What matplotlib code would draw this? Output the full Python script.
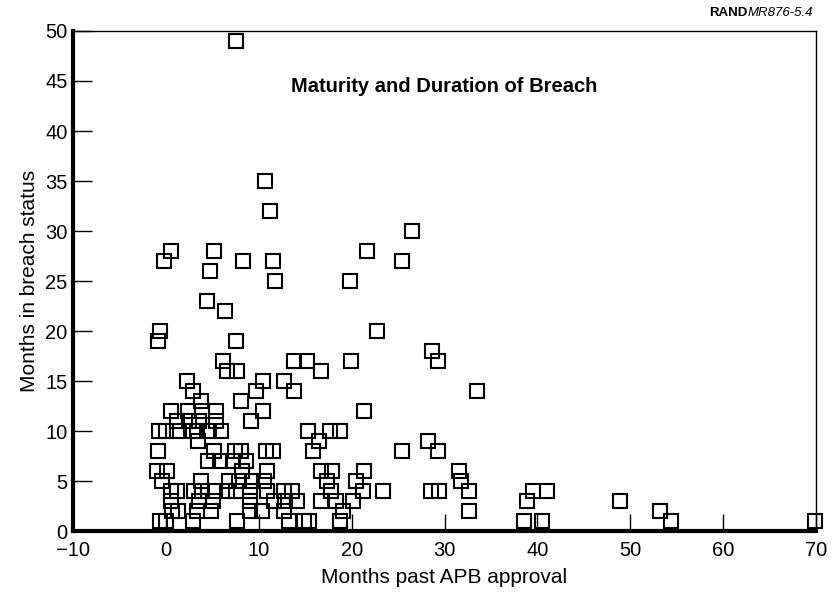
"""Maturity and duration of breach scatter (RAND MR876-5.4)."""
import matplotlib
matplotlib.use("Agg")
import matplotlib.pyplot as plt

plt.rcParams["font.family"] = ["Liberation Sans", "DejaVu Sans"]

# months past APB approval / months in breach status
months_past = [
    7.6, 10.7, 11.2, 26.5, 0.6, 5.2, 21.7, -0.25, 8.3, 11.5, 25.4, 4.7, 11.7, 19.8,
    4.4, 6.4, -0.6, 22.7, -0.9, 7.6, 28.6,
    6.1, 13.8, 15.2, 19.9, 29.3,
    6.6, 7.7, 16.7,
    2.3, 10.5, 12.7,
    2.9, 9.7, 13.8, 33.5,
    3.8, 8.1,
    0.5, 2.4, 3.9, 5.4, 10.5, 21.3,
    1.2, 2.5, 3.6, 5.4, 9.2,
    -0.7, 0.0, 1.2, 2.9, 3.4, 4.6, 5.9, 15.3, 17.7, 18.7,
    3.5, 16.5, 28.2,
    -0.9, 5.2, 7.4, 8.1, 10.8, 11.5, 15.8, 25.4, 29.3,
    4.5, 5.8, 7.2, 8.6,
    -1.0, 0.1, 8.2, 10.9, 16.7, 17.9, 21.3, 31.6,
    -0.4, 3.8, 6.8, 7.9, 9.3, 10.6, 17.4, 20.5, 31.8,
    0.5, 1.2, 3.0, 3.9, 5.3, 6.6, 7.6, 9.1, 10.9, 12.7, 13.6, 17.8, 21.2, 23.4,
    28.5, 29.4, 32.6, 39.5, 41.0,
    0.6, 3.6, 5.1, 9.1, 11.6, 12.8, 14.1, 16.7, 18.3, 20.1, 38.9, 48.9,
    0.7, 1.3, 3.4, 4.9, 9.1, 10.3, 12.7, 19.1, 32.6, 53.2,
    -0.6, 0.0, 2.9, 7.7, 13.3, 14.9, 15.4, 18.7, 38.6, 40.5, 54.4, 69.9,
]
months_breach = [
    49, 35, 32, 30, 28, 28, 28, 27, 27, 27, 27, 26, 25, 25,
    23, 22, 20, 20, 19, 19, 18,
    17, 17, 17, 17, 17,
    16, 16, 16,
    15, 15, 15,
    14, 14, 14, 14,
    13, 13,
    12, 12, 12, 12, 12, 12,
    11, 11, 11, 11, 11,
    10, 10, 10, 10, 10, 10, 10, 10, 10, 10,
    9, 9, 9,
    8, 8, 8, 8, 8, 8, 8, 8, 8,
    7, 7, 7, 7,
    6, 6, 6, 6, 6, 6, 6, 6,
    5, 5, 5, 5, 5, 5, 5, 5, 5,
    4, 4, 4, 4, 4, 4, 4, 4, 4, 4, 4, 4, 4, 4,
    4, 4, 4, 4, 4,
    3, 3, 3, 3, 3, 3, 3, 3, 3, 3, 3, 3,
    2, 2, 2, 2, 2, 2, 2, 2, 2, 2,
    1, 1, 1, 1, 1, 1, 1, 1, 1, 1, 1, 1,
]

x_ticks = list(range(-10, 71, 10))
y_ticks = list(range(0, 51, 5))

fig = plt.figure(figsize=(8.34, 5.96), dpi=100)
ax = fig.add_axes([0.0875, 0.109, 0.891, 0.839])

ax.plot(months_past, months_breach, linestyle="none", marker="s", markersize=9.5,
        markerfacecolor="none", markeredgecolor="black", markeredgewidth=1.5, clip_on=False)

ax.set_xlim(-10, 70)
ax.set_ylim(0, 50)
ax.set_xticks(x_ticks)
ax.set_yticks(y_ticks)
ax.set_xticklabels([str(t).replace("-", "\u2212") for t in x_ticks])

for side in ("left", "bottom"):
    ax.spines[side].set_linewidth(3)
for side in ("top", "right"):
    ax.spines[side].set_linewidth(1)

ax.tick_params(axis="y", direction="in", length=14, width=1, labelsize=14.5, pad=4)
ax.tick_params(axis="x", direction="in", length=12, width=1, labelsize=14.5, pad=7)

ax.set_xlabel("Months past APB approval", fontsize=15, labelpad=6)
ax.set_ylabel("Months in breach status", fontsize=15, labelpad=4)

ax.text(0.5, 0.888, "Maturity and Duration of Breach", transform=ax.transAxes,
        ha="center", va="center", fontsize=14.5, fontweight="bold")

fig.text(0.896, 0.978, "RAND", ha="right", va="center", fontsize=9.5, fontweight="bold")
fig.text(0.896, 0.978, "MR876-5.4", ha="left", va="center", fontsize=9.5, style="italic")

fig.savefig("out.png", dpi=100)
